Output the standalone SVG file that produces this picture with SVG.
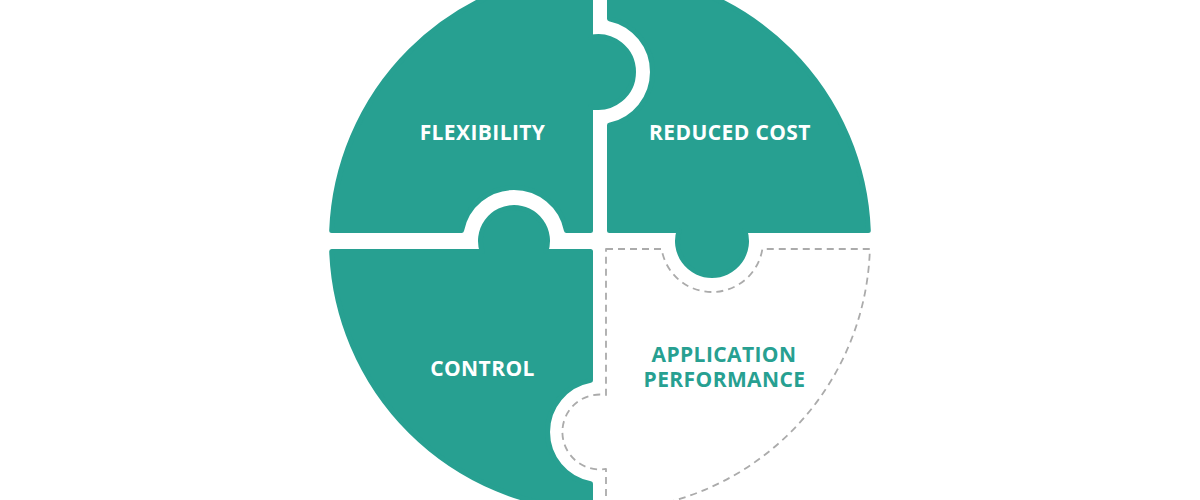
<svg xmlns="http://www.w3.org/2000/svg" width="1200" height="500" viewBox="0 0 1200 500">
  <style>
    .piece { fill: #27a091; stroke: #27a091; stroke-width: 5; stroke-linejoin: round; }
    .open { fill: #ffffff; stroke: #ababab; stroke-width: 1.8; stroke-dasharray: 7 5; stroke-linejoin: round; }
    .lbl { font-family: "Open Sans", "Liberation Sans", sans-serif; font-weight: 700; font-size: 21px; letter-spacing: 0.4px; text-anchor: middle; }
    .w { fill: #ffffff; }
    .t { fill: #27a091; }
  </style>
  <rect width="1200" height="500" fill="#ffffff"/>
  <g id="flexibility">
    <path class="piece" d="M590.5,-27.33 L590.5,37.3 A35.5,35.5 0 1 1 590.5,106.7 L590.5,230.5 L566.46,230.5 A53.5,53.5 0 0 0 461.54,230.5 L331.7,230.5 A268.5,268.5 0 0 1 590.5,-27.33 Z"/>
    <text class="lbl w" x="482.5" y="140">FLEXIBILITY</text>
  </g>
  <g id="reduced-cost">
    <path class="piece" d="M609.5,-27.33 L609.5,18.73 A54.5,54.5 0 0 1 609.5,125.27 L609.5,230.5 L679.14,230.5 A34.5,34.5 0 1 0 744.86,230.5 L868.3,230.5 A268.5,268.5 0 0 0 609.5,-27.33 Z"/>
    <text class="lbl w" x="730" y="140">REDUCED COST</text>
  </g>
  <g id="control">
    <path class="piece" d="M331.7,251.5 L482.19,251.5 A33.5,33.5 0 1 1 545.81,251.5 L590.5,251.5 L590.5,380.37 A52.5,52.5 0 0 0 590.5,483.63 L590.5,509.33 A268.5,268.5 0 0 1 331.7,251.5 Z"/>
    <text class="lbl w" x="482.5" y="376">CONTROL</text>
  </g>
  <g id="application-performance">
    <path class="open" d="M606,249 L661.63,249 A51,51 0 0 0 762.37,249 L869.88,249 A270,270 0 0 1 606,510.93 L606,468.98 A37.5,37.5 0 1 1 606,394.98 Z"/>
    <text class="lbl t"><tspan x="724" y="362">APPLICATION</tspan><tspan x="724.5" y="387">PERFORMANCE</tspan></text>
  </g>
  <g id="connectors"></g>
</svg>
